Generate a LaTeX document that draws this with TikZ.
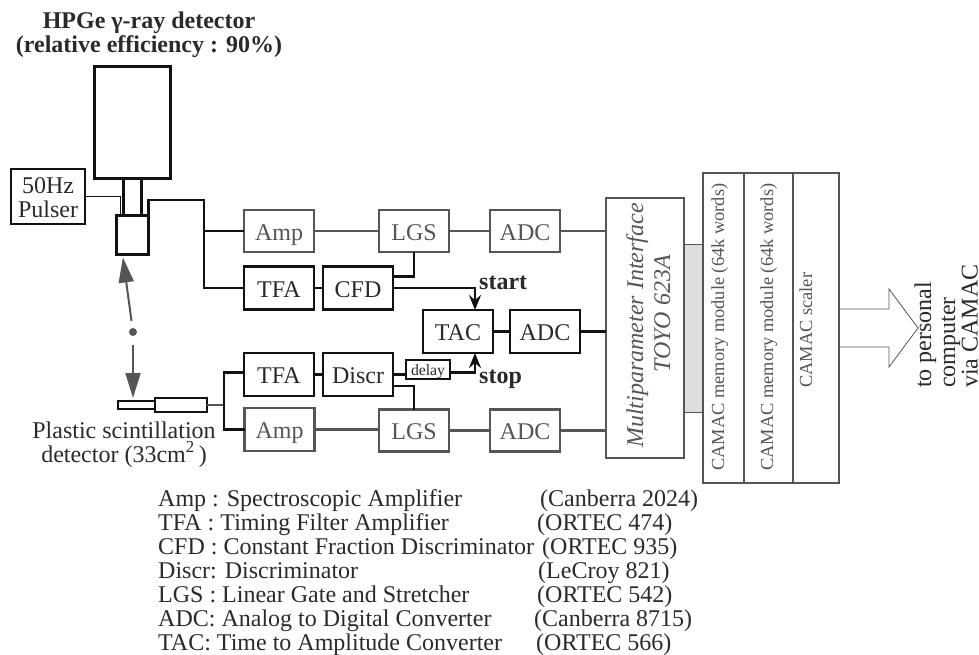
\documentclass[tikz,border=0pt]{standalone}
\usepackage{fontspec}
\setmainfont{Liberation Serif}
\usepackage{xcolor}
\usepackage{tikz}
\usetikzlibrary{positioning,arrows.meta}
\definecolor{ink}{HTML}{111111}
\definecolor{dim}{HTML}{555555}
\definecolor{txt}{HTML}{2A2A2A}
\newcommand{\bigfont}{\fontsize{24}{24}\selectfont}
\newcommand{\midfont}{\fontsize{18.4}{20}\selectfont}
\newcommand{\tinyfont}{\fontsize{15.7}{16}\selectfont}

\begin{document}
\begin{tikzpicture}[
    x=1pt,y=-1pt,
    font=\bigfont,text=txt,
    box/.style={rectangle,draw=ink,line width=2.5pt,outer sep=0pt,inner sep=0pt,minimum width=70pt,minimum height=43pt,text height=18pt,text depth=0pt,align=center},
    grayBox/.style={box,draw=dim,text=dim},
    bare/.style={rectangle,draw=ink,line width=2.5pt,outer sep=0pt,inner sep=0pt},
    wire/.style={draw=ink,line width=2.5pt},
    grayWire/.style={draw=dim,line width=2.5pt},
    pulse/.style={-{Stealth[length=15pt,width=12pt,inset=5pt]},draw=ink,line width=2.5pt},
    ray/.style={-{Triangle[length=25pt,width=15pt]},draw=dim,line width=2pt},
    legend/.style={anchor=base west,inner sep=0pt},
    sideways/.style={anchor=base west,inner sep=0pt,rotate=90},
    caption/.style={inner sep=0pt,align=center}
    ]
    \useasboundingbox (0,0) rectangle (979,654);

    % detectors
    \node[caption,font=\bigfont\bfseries,anchor=base] (title) at (149,52) {HPGe γ-ray detector\\(relative efficiency : 90\%)};
    \node[bare,minimum width=76pt,minimum height=112pt] (hpge) at (132.5,122.5) {};
    \node[bare,below=0pt of hpge,minimum width=18pt,minimum height=37pt] (neck) {};
    \node[bare,below=0pt of neck,minimum width=32pt,minimum height=39pt] (preamp) {};
    \node[box,minimum width=74pt,minimum height=55pt,text height=41pt] (pulser) at (48,196.5) {50Hz\\Pulser};

    \node[bare,minimum width=37pt,minimum height=8pt] (scint) at (136.5,405) {};
    \node[bare,right=0pt of scint,minimum width=52pt,minimum height=14pt] (pmt) {};
    \node[caption,anchor=base] (plastic) at (124,462) {Plastic scintillation\\detector (33cm\textsuperscript{2}\,)};

    \node[circle,fill=dim,inner sep=0pt,minimum size=8pt] (source) at (133,332) {};

    % upper branch
    \node[grayBox,minimum height=42pt] (ampA) at (279,231) {Amp};
    \node[grayBox,minimum height=42pt,right=65pt of ampA] (lgsA) {LGS};
    \node[grayBox,minimum height=42pt,right=41pt of lgsA] (adcA) {ADC};
    \node[box,below=14.5pt of ampA] (tfaA) {TFA};
    \node[box,right=9pt of tfaA] (cfd) {CFD};

    % timing
    \node[box] (tac) at (458,331.5) {TAC};
    \node[box,right=17pt of tac] (adcC) {ADC};
    \node[font=\bigfont\bfseries,legend] (start) at (479,289) {start};
    \node[font=\bigfont\bfseries,legend] (stop) at (479,383) {stop};

    % lower branch
    \node[box] (tfaB) at (279,374.5) {TFA};
    \node[box,right=9pt of tfaB] (discr) {Discr};
    \node[box,font=\tinyfont,minimum width=44pt,minimum height=19pt,text height=11pt,line width=2pt] (delay) at (428,369.5) {delay};
    \node[grayBox] (ampB) at (279.5,429.5) {Amp};
    \node[grayBox,minimum height=42pt] (lgsB) at (414,430.5) {LGS};
    \node[grayBox,minimum height=42pt,right=41pt of lgsB] (adcB) {ADC};

    % interface and CAMAC crate
    \node[rectangle,draw=dim,line width=1pt,fill=black!13,minimum width=19pt,minimum height=168pt,inner sep=0pt] (bridge) at (693.5,328) {};
    \node[bare,draw=dim,minimum width=78pt,minimum height=260pt] (mpi) at (645,328) {};
    \node[sideways,font=\bigfont\itshape,text=dim] (mpiName) at (643,448) {Multiparameter Interface};
    \node[sideways,font=\bigfont\itshape,text=dim] (mpiType) at (670,373) {TOYO 623A};
    \node[bare,draw=dim,minimum width=41pt,minimum height=310pt] (memA) at (723.5,328) {};
    \node[bare,draw=dim,right=0pt of memA,minimum width=49pt,minimum height=310pt] (memB) {};
    \node[bare,draw=dim,right=0pt of memB,minimum width=46pt,minimum height=310pt] (scaler) {};
    \node[sideways,font=\midfont,text=dim] (memAtext) at (724,471) {CAMAC memory module (64k words)};
    \node[sideways,font=\midfont,text=dim] (memBtext) at (773,471) {CAMAC memory module (64k words)};
    \node[sideways,font=\midfont,text=dim] (scalerText) at (812,388) {CAMAC scaler};

    \node[sideways] (pcA) at (931,388) {to personal};
    \node[sideways] (pcB) at (955,388) {computer};
    \node[sideways] (pcC) at (977.5,388) {via CAMAC};

    % legend
    \node[legend] (keyAmp) at (158,506) {Amp : Spectroscopic Amplifier};
    \node[legend] (keyTfa) at (158,530) {TFA : Timing Filter Amplifier};
    \node[legend] (keyCfd) at (158,554) {CFD : Constant Fraction Discriminator};
    \node[legend] (keyDiscr) at (158,578) {Discr: Discriminator};
    \node[legend] (keyLgs) at (158,602) {LGS : Linear Gate and Stretcher};
    \node[legend] (keyAdc) at (158,626) {ADC: Analog to Digital Converter};
    \node[legend] (keyTac) at (158,650) {TAC: Time to Amplitude Converter};
    \node[legend] (makerAmp) at (540,506) {(Canberra 2024)};
    \node[legend] (makerTfa) at (537,530) {(ORTEC 474)};
    \node[legend] (makerCfd) at (542,554) {(ORTEC 935)};
    \node[legend] (makerDiscr) at (538,578) {(LeCroy 821)};
    \node[legend] (makerLgs) at (537,602) {(ORTEC 542)};
    \node[legend] (makerAdc) at (534,626) {(Canberra 8715)};
    \node[legend] (makerTac) at (536,650) {(ORTEC 566)};

    \coordinate (bend) at (204,200);
    \coordinate (split) at (224,405);

    % detector wiring
    \draw[wire,line width=1.8pt] (pulser.east) -| ([xshift=-12pt]preamp.north);
    \draw[wire] (preamp.north east) |- (bend) |- (tfaA.west);
    \draw[wire] (bend |- ampA.west) -- (ampA.west);
    \draw[grayWire] (pmt.east) -- (split);
    \draw[wire] ([yshift=2pt]tfaB.west) -| (split) |- (ampB.west);

    \draw[ray,shorten <=7pt,shorten >=3pt] (source) -- ([xshift=-10pt]preamp.south);
    \draw[ray,shorten <=9pt,shorten >=3pt] (source) -- ([xshift=-3.5pt]scint.north);

    % signal wiring
    \draw[grayWire] (ampA.east) -- (lgsA.west);
    \draw[grayWire] (lgsA.east) -- (adcA.west);
    \draw[grayWire] (adcA.east) -- (adcA.east -| mpi.west);
    \draw[grayWire] (ampB.east) -- (ampB.east -| lgsB.west);
    \draw[grayWire] (lgsB.east) -- (adcB.west);
    \draw[grayWire] (adcB.east) -- (adcB.east -| mpi.west);
    \draw[wire] (tfaA.east) -- (cfd.west);
    \draw[wire] (tfaB.east) -- (discr.west);
    \draw[wire] (discr.east) -- (discr.east -| delay.west);
    \draw[wire] (lgsA.south) |- ([yshift=11.5pt]cfd.east);
    \draw[wire] (lgsB.north) |- ([yshift=-11.5pt]discr.east);
    \draw[pulse] (cfd.east) -| ([xshift=17pt]tac.north);
    \draw[pulse] ([yshift=-3pt]delay.east) -| ([xshift=17pt]tac.south);
    \draw[wire] (tac.east) -- (adcC.west);
    \draw[wire] (adcC.east) -- (adcC.east -| mpi.west);

    % output arrow
    \draw[draw=dim,line width=0.8pt] ([yshift=19pt]scaler.east) -- ++(50,0) -- ++(0,-20) -- ++(29,39) -- ++(-29,39) -- ++(0,-20) -- ++(-50,0);

  \end{tikzpicture}
\end{document}
